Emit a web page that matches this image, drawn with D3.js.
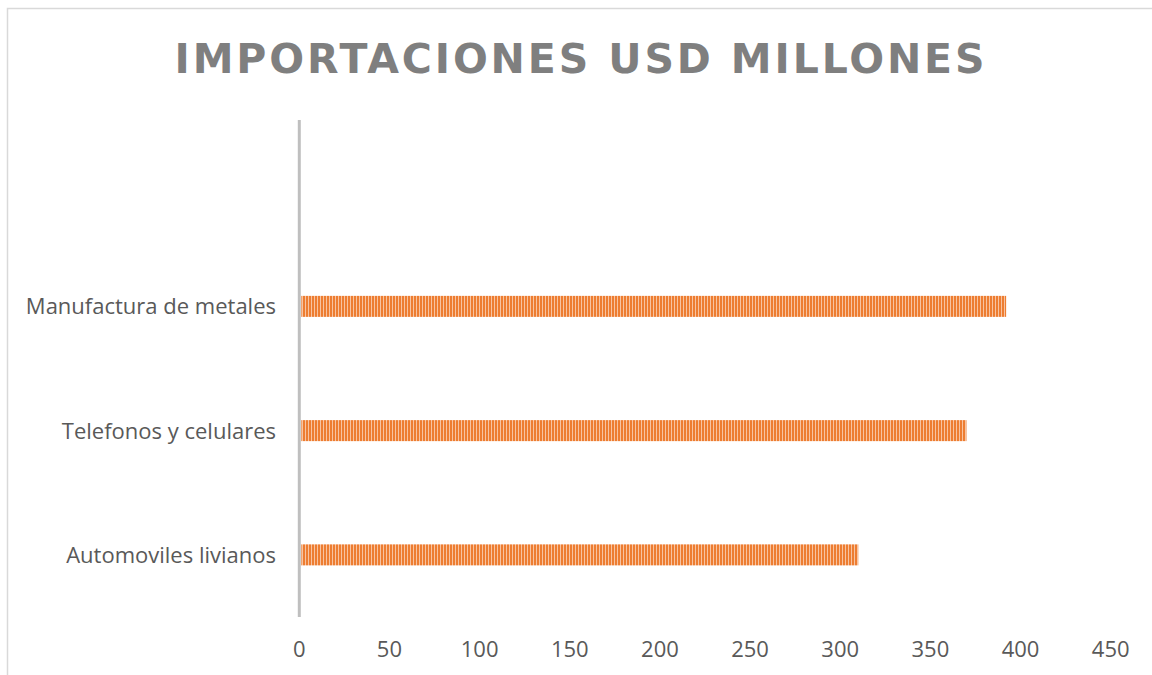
<!DOCTYPE html>
<html><head><meta charset="utf-8">
<script src="https://cdn.jsdelivr.net/npm/d3@7"></script>
<style>body{margin:0;background:#fff}svg{display:block}</style>
</head><body><svg id="c" width="1152" height="675"></svg>
<script>
const categories = ["", "Manufactura de metales", "Telefonos y celulares", "Automoviles livianos"];
const values = [null, 392, 370, 310];
const ticks = [0, 50, 100, 150, 200, 250, 300, 350, 400, 450];
const title = "IMPORTACIONES USD MILLONES";

const svg = d3.select("#c");
svg.append("path").attr("d","M7.5,675 V8.5 H1152").attr("fill","none").attr("stroke","#d9d9d9").attr("stroke-width",1.5);

const defs = svg.append("defs");
const pat = defs.append("pattern").attr("id","stripes").attr("patternUnits","userSpaceOnUse")
  .attr("width",3).attr("height",10);
pat.append("rect").attr("width",3).attr("height",10).attr("fill","#F8C3A0");
pat.append("rect").attr("width",2).attr("height",10).attr("fill","#ED7D31");

const x = d3.scaleLinear().domain([0,450]).range([299.3,1110.7]);
const y = d3.scaleBand().domain(categories).range([120,617]).paddingInner(0.83).paddingOuter(0.415);

svg.append("text").attr("x",582).attr("y",73).attr("text-anchor","middle")
  .attr("font-family","DejaVu Sans, Verdana, sans-serif").attr("font-weight","bold")
  .attr("font-size",41).attr("fill","#7f7f7f").attr("letter-spacing","5")
  .attr("textLength",815).attr("lengthAdjust","spacing").text(title);

svg.selectAll("rect.bar").data(categories.map((c,i)=>({c,v:values[i]})).filter(d=>d.v!=null))
  .enter().append("rect").attr("class","bar")
  .attr("x",x(0)+2).attr("y",d=>y(d.c)+y.bandwidth()/2-10.5)
  .attr("width",d=>x(d.v)-x(0)-2).attr("height",21)
  .attr("fill","url(#stripes)");

svg.append("line").attr("x1",x(0)).attr("x2",x(0)).attr("y1",120).attr("y2",617)
  .attr("stroke","#bfbfbf").attr("stroke-width",3);

svg.selectAll("text.cat").data(categories).enter().append("text").attr("class","cat")
  .attr("x",276).attr("y",d=>y(d)+y.bandwidth()/2+8).attr("text-anchor","end")
  .attr("font-family","Open Sans, Liberation Sans, sans-serif").attr("font-size",22).attr("fill","#595959")
  .text(d=>d);

svg.selectAll("text.tick").data(ticks).enter().append("text").attr("class","tick")
  .attr("x",d=>x(d)).attr("y",657).attr("text-anchor","middle")
  .attr("font-family","Open Sans, Liberation Sans, sans-serif").attr("font-size",22).attr("fill","#595959")
  .text(d=>d);
</script></body></html>
